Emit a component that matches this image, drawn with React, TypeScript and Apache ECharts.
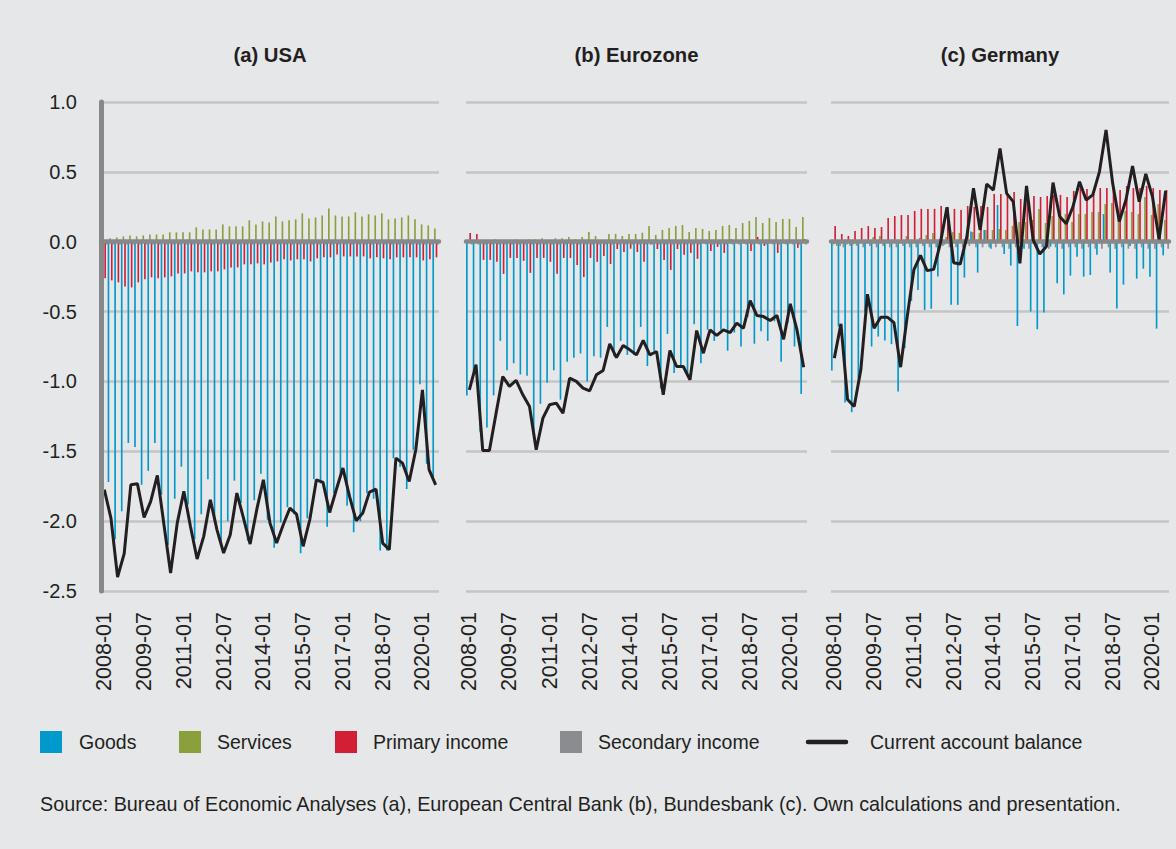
import React, { useEffect, useRef } from "react";
import * as echarts from "echarts";

const quarters = [
  "2008-01", "2008-04", "2008-07", "2008-10",
  "2009-01", "2009-04", "2009-07", "2009-10",
  "2010-01", "2010-04", "2010-07", "2010-10",
  "2011-01", "2011-04", "2011-07", "2011-10",
  "2012-01", "2012-04", "2012-07", "2012-10",
  "2013-01", "2013-04", "2013-07", "2013-10",
  "2014-01", "2014-04", "2014-07", "2014-10",
  "2015-01", "2015-04", "2015-07", "2015-10",
  "2016-01", "2016-04", "2016-07", "2016-10",
  "2017-01", "2017-04", "2017-07", "2017-10",
  "2018-01", "2018-04", "2018-07", "2018-10",
  "2019-01", "2019-04", "2019-07", "2019-10",
  "2020-01", "2020-04", "2020-07",
];

const yTicks = [-2.5, -2.0, -1.5, -1.0, -0.5, 0.0, 0.5, 1.0];

// (a) USA
const usaGoods = [
  -1.53, -1.72, -2.13, -1.93, -1.44, -1.47, -1.74, -1.64, -1.44, -1.81,
  -2.17, -1.84, -1.61, -1.88, -2.13, -1.95, -1.70, -2.00, -2.14, -2.00,
  -1.71, -1.87, -2.14, -1.85, -1.66, -1.99, -2.19, -2.01, -1.90, -1.95,
  -2.23, -1.98, -1.70, -1.73, -2.04, -1.80, -1.66, -1.89, -2.08, -2.00,
  -1.80, -1.84, -2.21, -2.21, -1.55, -1.61, -1.77, -1.49, -1.02, -1.59,
  -1.69,
];
const usaServices = [
  0.02, 0.024, 0.031, 0.038, 0.045, 0.038, 0.045, 0.052, 0.052, 0.052,
  0.067, 0.067, 0.067, 0.067, 0.103, 0.088, 0.088, 0.088, 0.124, 0.11,
  0.11, 0.11, 0.153, 0.124, 0.145, 0.138, 0.181, 0.145, 0.153, 0.16,
  0.203, 0.167, 0.174, 0.188, 0.238, 0.188, 0.181, 0.181, 0.21, 0.181,
  0.196, 0.188, 0.203, 0.16, 0.167, 0.174, 0.188, 0.16, 0.124, 0.117,
  0.095,
];
const usaPrimary = [
  -0.262, -0.277, -0.291, -0.32, -0.327, -0.291, -0.269, -0.255, -0.262, -0.255,
  -0.248, -0.227, -0.227, -0.212, -0.219, -0.219, -0.212, -0.212, -0.198, -0.184,
  -0.184, -0.162, -0.162, -0.155, -0.162, -0.148, -0.141, -0.126, -0.134, -0.126,
  -0.126, -0.141, -0.119, -0.112, -0.112, -0.091, -0.105, -0.105, -0.105, -0.105,
  -0.119, -0.112, -0.119, -0.126, -0.112, -0.112, -0.112, -0.112, -0.134, -0.126,
  -0.112,
];
const usaSecondary = [
  -0.02, -0.02, -0.02, -0.02, -0.02, -0.02, -0.02, -0.02, -0.02, -0.02,
  -0.02, -0.02, -0.02, -0.02, -0.02, -0.02, -0.02, -0.02, -0.02, -0.02,
  -0.02, -0.02, -0.02, -0.02, -0.02, -0.02, -0.02, -0.02, -0.02, -0.02,
  -0.02, -0.02, -0.02, -0.02, -0.02, -0.02, -0.02, -0.02, -0.02, -0.02,
  -0.02, -0.02, -0.02, -0.02, -0.02, -0.02, -0.02, -0.02, -0.02, -0.02,
  -0.02,
];
const usaBalance = [
  -1.775, -1.978, -2.40, -2.233, -1.74, -1.733, -1.973, -1.859, -1.673, -2.026,
  -2.371, -2.014, -1.787, -2.038, -2.271, -2.109, -1.847, -2.062, -2.228, -2.097,
  -1.799, -1.978, -2.164, -1.918, -1.704, -2.014, -2.157, -2.026, -1.907, -1.95,
  -2.18, -1.99, -1.704, -1.723, -1.938, -1.775, -1.62, -1.823, -1.997, -1.942,
  -1.792, -1.771, -2.157, -2.204, -1.549, -1.585, -1.716, -1.489, -1.06, -1.632,
  -1.74,
];

// (b) Eurozone
const ezGoods = [
  -1.10, -0.93, -1.36, -1.33, -1.10, -0.71, -0.92, -0.87, -0.95, -0.96,
  -1.38, -1.16, -1.01, -0.92, -1.13, -0.86, -0.83, -0.80, -1.00, -0.82,
  -0.83, -0.61, -0.82, -0.71, -0.81, -0.81, -0.61, -0.89, -0.78, -1.05,
  -0.66, -0.94, -0.89, -0.96, -0.59, -0.87, -0.63, -0.71, -0.63, -0.78,
  -0.65, -0.75, -0.54, -0.73, -0.64, -0.71, -0.57, -0.86, -0.58, -0.75,
  -1.09,
];
const ezServices = [
  0.0, 0.0, 0.0, 0.005, 0.018, 0.005, 0.005, 0.018, 0.01, 0.018,
  0.018, 0.025, 0.01, 0.025, 0.025, 0.034, 0.018, 0.034, 0.07, 0.041,
  0.01, 0.056, 0.056, 0.041, 0.056, 0.056, 0.065, 0.113, 0.049, 0.084,
  0.099, 0.113, 0.12, 0.07, 0.099, 0.091, 0.077, 0.084, 0.113, 0.12,
  0.099, 0.134, 0.149, 0.177, 0.134, 0.17, 0.141, 0.163, 0.163, 0.106,
  0.177,
];
const ezPrimary = [
  0.063, 0.056, -0.13, -0.13, -0.144, -0.23, -0.116, -0.116, -0.137, -0.223,
  -0.116, -0.116, -0.144, -0.23, -0.116, -0.116, -0.166, -0.252, -0.116, -0.144,
  -0.102, -0.159, -0.052, -0.073, -0.05, -0.073, -0.144, -0.02, -0.052, -0.13,
  -0.202, -0.052, -0.094, -0.08, -0.123, -0.01, -0.066, -0.037, -0.08, 0.02,
  -0.01, -0.01, -0.066, 0.034, -0.03, -0.01, -0.08, -0.01, -0.01, -0.044,
  0.02,
];
const ezSecondary = [
  -0.02, -0.02, -0.02, -0.02, -0.02, -0.02, -0.02, -0.02, -0.02, -0.02,
  -0.02, -0.02, -0.02, -0.02, -0.02, -0.02, -0.02, -0.02, -0.02, -0.02,
  -0.02, -0.02, -0.02, -0.02, -0.02, -0.02, -0.02, -0.02, -0.02, -0.02,
  -0.02, -0.02, -0.02, -0.02, -0.02, -0.02, -0.02, -0.02, -0.02, -0.02,
  -0.02, -0.02, -0.02, -0.02, -0.02, -0.02, -0.02, -0.02, -0.02, -0.02,
  -0.02,
];
const ezBalance = [
  -1.06, -0.88, -1.494, -1.494, -1.227, -0.965, -1.036, -0.993, -1.096, -1.18,
  -1.489, -1.263, -1.167, -1.155, -1.227, -0.977, -1.0, -1.048, -1.067, -0.953,
  -0.922, -0.731, -0.829, -0.743, -0.774, -0.81, -0.707, -0.81, -0.786, -1.096,
  -0.779, -0.893, -0.893, -0.989, -0.636, -0.798, -0.631, -0.671, -0.631, -0.65,
  -0.583, -0.619, -0.421, -0.528, -0.536, -0.564, -0.528, -0.698, -0.445, -0.631,
  -0.898,
];

// (c) Germany
const deGoods = [
  -0.922, -0.607, -1.15, -1.22, -0.98, -0.50, -0.75, -0.679, -0.707, -0.733,
  -1.072, -0.762, -0.424, -0.345, -0.488, -0.48, -0.249, -0.02, -0.452, -0.452,
  -0.257, 0.073, -0.221, 0.084, -0.05, 0.263, -0.088, -0.171, -0.603, -0.05,
  -0.5, -0.627, -0.507, -0.035, -0.298, -0.377, -0.243, -0.107, -0.25, -0.238,
  -0.093, 0.198, -0.221, -0.478, -0.307, -0.03, -0.264, -0.193, -0.25, -0.622,
  -0.098,
];
const deServices = [
  -0.02, -0.03, -0.02, -0.02, -0.01, 0.0, 0.034, 0.041, 0.01, 0.01,
  0.0, 0.041, 0.01, 0.027, 0.048, 0.063, 0.01, 0.034, 0.069, 0.063,
  0.02, 0.069, 0.063, 0.084, 0.084, 0.091, 0.084, 0.113, 0.141, 0.141,
  0.156, 0.234, 0.134, 0.184, 0.17, 0.198, 0.141, 0.198, 0.198, 0.213,
  0.213, 0.27, 0.277, 0.213, 0.22, 0.213, 0.198, 0.32, 0.191, 0.27,
  0.156,
];
const dePrimary = [
  0.112, 0.055, 0.041, 0.077, 0.098, 0.112, 0.098, 0.105, 0.17, 0.184,
  0.191, 0.191, 0.22, 0.235, 0.235, 0.235, 0.256, 0.249, 0.235, 0.227,
  0.256, 0.249, 0.256, 0.249, 0.342, 0.342, 0.335, 0.356, 0.306, 0.32,
  0.327, 0.32, 0.327, 0.335, 0.335, 0.32, 0.363, 0.384, 0.377, 0.342,
  0.384, 0.384, 0.38, 0.37, 0.399, 0.384, 0.384, 0.399, 0.384, 0.37,
  0.37,
];
const deSecondary = [
  -0.03, -0.04, -0.03, -0.03, -0.04, -0.03, -0.04, -0.03, -0.04, -0.04,
  -0.03, -0.04, -0.04, -0.03, -0.04, -0.04, -0.03, -0.04, -0.04, -0.04,
  -0.03, -0.04, -0.04, -0.04, -0.04, -0.04, -0.05, -0.04, -0.04, -0.05,
  -0.04, -0.04, -0.05, -0.04, -0.05, -0.04, -0.04, -0.05, -0.04, -0.05,
  -0.05, -0.04, -0.05, -0.04, -0.05, -0.05, -0.04, -0.05, -0.05, -0.04,
  -0.05,
];
const deBalance = [
  -0.833, -0.588, -1.13, -1.18, -0.917, -0.376, -0.619, -0.54, -0.54, -0.579,
  -0.898, -0.536, -0.202, -0.098, -0.207, -0.198, -0.012, 0.246, -0.15, -0.16,
  0.036, 0.383, 0.084, 0.413, 0.37, 0.668, 0.346, 0.287, -0.155, 0.40,
  0.013, -0.088, -0.035, 0.423, 0.18, 0.128, 0.25, 0.43, 0.299, 0.335,
  0.5, 0.8, 0.418, 0.144, 0.299, 0.542, 0.287, 0.485, 0.323, 0.018,
  0.365,
];

const seriesNames = ["Goods", "Services", "Primary income", "Secondary income", "Current account balance"];
const panelTitles = ["(a) USA", "(b) Eurozone", "(c) Germany"];
const sourceText =
  "Source: Bureau of Economic Analyses (a), European Central Bank (b), Bundesbank (c). Own calculations and presentation.";

const FONT = "'Liberation Sans', Arial, sans-serif";
const TEXT = "#231f20";
const COLORS = ["#0099cc", "#8aa03c", "#d31f35", "#8b8c8f"];
const LINE_COLOR = "#231f20";
const AXIS_GREY = "#87888a";

const panels = [
  { title: panelTitles[0], data: [usaGoods, usaServices, usaPrimary, usaSecondary], balance: usaBalance, left: 101, width: 338 },
  { title: panelTitles[1], data: [ezGoods, ezServices, ezPrimary, ezSecondary], balance: ezBalance, left: 466, width: 341 },
  { title: panelTitles[2], data: [deGoods, deServices, dePrimary, deSecondary], balance: deBalance, left: 831, width: 338 },
];

function buildOption() {
  const grid = panels.map((p) => ({ left: p.left, top: 102, width: p.width, height: 489 }));
  const xAxis: any[] = [];
  const yAxis: any[] = [];
  const series: any[] = [];
  panels.forEach((p, i) => {
    // labelled category axis at the bottom
    xAxis.push({
      type: "category",
      gridIndex: i,
      position: "bottom",
      data: quarters,
      boundaryGap: true,
      axisLine: { show: false, onZero: false },
      axisTick: { show: false },
      splitLine: { show: false },
      axisLabel: {
        interval: 5,
        rotate: 90,
        margin: 21,
        fontSize: 21.5,
        color: TEXT,
        fontFamily: FONT,
      },
    });
    // thick zero line drawn over the bars
    xAxis.push({
      type: "category",
      gridIndex: i,
      position: "bottom",
      data: quarters,
      boundaryGap: true,
      z: 4,
      axisLine: { show: true, onZero: true, lineStyle: { color: AXIS_GREY, width: 4.5 } },
      axisTick: { show: false },
      axisLabel: { show: false },
      splitLine: { show: false },
    });
    yAxis.push({
      type: "value",
      gridIndex: i,
      position: "left",
      min: yTicks[0],
      max: yTicks[yTicks.length - 1],
      interval: 0.5,
      z: 1,
      axisLine: { show: false, onZero: false },
      axisTick: { show: false },
      axisLabel: {
        show: i === 0,
        margin: 24,
        fontSize: 20,
        color: TEXT,
        fontFamily: FONT,
        formatter: (v: number) => v.toFixed(1),
      },
      splitLine: { show: true, lineStyle: { color: "#c4c5c7", width: 2.5 } },
    });
    p.data.forEach((d, k) => {
      series.push({
        name: seriesNames[k],
        type: "bar",
        xAxisIndex: 2 * i,
        yAxisIndex: i,
        data: d,
        barWidth: 1.65,
        barGap: "0%",
        itemStyle: { color: COLORS[k] },
        z: 2,
      });
    });
    series.push({
      name: seriesNames[4],
      type: "line",
      xAxisIndex: 2 * i,
      yAxisIndex: i,
      data: p.balance,
      symbol: "none",
      lineStyle: { color: LINE_COLOR, width: 3 },
      z: 5,
    });
  });
  // thick vertical axis line of panel (a), drawn above the bars
  yAxis.push({
    type: "value",
    gridIndex: 0,
    position: "left",
    min: yTicks[0],
    max: yTicks[yTicks.length - 1],
    interval: 0.5,
    z: 6,
    axisLine: { show: true, onZero: false, lineStyle: { color: AXIS_GREY, width: 5 } },
    axisTick: { show: false },
    axisLabel: { show: false },
    splitLine: { show: false },
  });

  const graphic: any[] = [];
  panels.forEach((p) => {
    graphic.push({
      type: "text",
      x: p.left + p.width / 2,
      y: 55,
      style: {
        text: p.title,
        fill: TEXT,
        fontSize: 20.3,
        fontWeight: "bold",
        fontFamily: FONT,
        align: "center",
        verticalAlign: "middle",
      },
    });
  });
  const legendItems = [
    { x: 40, tx: 79 },
    { x: 179, tx: 217 },
    { x: 335, tx: 373 },
    { x: 560, tx: 598 },
  ];
  legendItems.forEach((it, k) => {
    graphic.push({ type: "rect", shape: { x: it.x, y: 731, width: 22, height: 22 }, style: { fill: COLORS[k] } });
    graphic.push({
      type: "text",
      x: it.tx,
      y: 742,
      style: { text: seriesNames[k], fill: TEXT, fontSize: 19.5, fontFamily: FONT, align: "left", verticalAlign: "middle" },
    });
  });
  graphic.push({
    type: "line",
    shape: { x1: 808, y1: 742, x2: 846, y2: 742 },
    style: { stroke: LINE_COLOR, lineWidth: 4.5, lineCap: "round" },
  });
  graphic.push({
    type: "text",
    x: 870,
    y: 742,
    style: { text: seriesNames[4], fill: TEXT, fontSize: 19.5, fontFamily: FONT, align: "left", verticalAlign: "middle" },
  });
  graphic.push({
    type: "text",
    x: 40,
    y: 804,
    style: { text: sourceText, fill: TEXT, fontSize: 19.8, fontFamily: FONT, align: "left", verticalAlign: "middle" },
  });

  return {
    animation: false,
    backgroundColor: "#e6e7e9",
    textStyle: { fontFamily: FONT },
    grid,
    xAxis,
    yAxis,
    series,
    graphic,
  };
}

export default function App() {
  const ref = useRef<HTMLDivElement | null>(null);
  useEffect(() => {
    document.body.style.margin = "0";
    if (!ref.current) return;
    const chart = echarts.init(ref.current, undefined, { renderer: "svg" });
    chart.setOption(buildOption() as any);
    return () => {
      chart.dispose();
    };
  }, []);
  return <div ref={ref} style={{ width: 1176, height: 849 }} />;
}
